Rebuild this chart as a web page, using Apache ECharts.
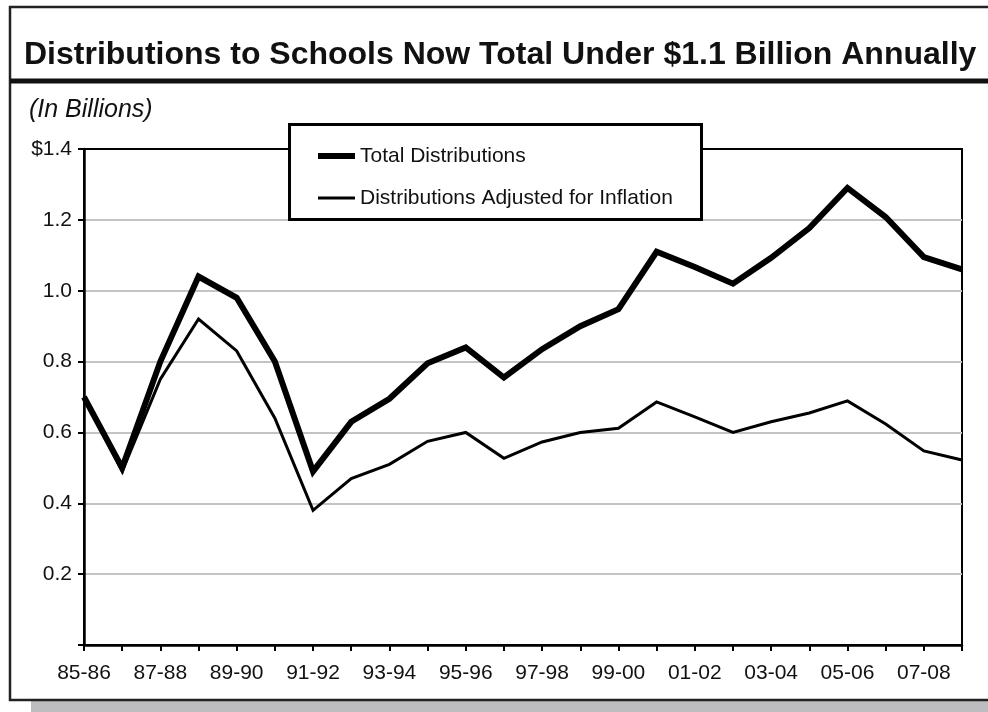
<!DOCTYPE html>
<html>
<head>
<meta charset="utf-8">
<script src="https://cdn.jsdelivr.net/npm/echarts@6/dist/echarts.min.js"></script>
<style>html,body{margin:0;padding:0;background:#fff;}#chart{width:988px;height:712px;}</style>
</head>
<body>
<div id="chart"></div>
<script>
var categories = ['85-86','86-87','87-88','88-89','89-90','90-91','91-92','92-93','93-94','94-95','95-96','96-97','97-98','98-99','99-00','00-01','01-02','02-03','03-04','04-05','05-06','06-07','07-08','08-09'];
var totalDistributions = [0.70,0.50,0.80,1.04,0.98,0.80,0.49,0.63,0.695,0.795,0.84,0.755,0.835,0.90,0.948,1.11,1.067,1.02,1.093,1.177,1.29,1.208,1.095,1.06];
var adjustedDistributions = [0.70,0.49,0.75,0.92,0.83,0.64,0.38,0.47,0.51,0.575,0.60,0.527,0.573,0.60,0.612,0.686,0.644,0.60,0.63,0.655,0.689,0.624,0.548,0.522];
var seriesNames = ['Total Distributions','Distributions Adjusted for Inflation'];
var titleText = 'Distributions to Schools Now Total Under $1.1 Billion Annually';
var unitText = '(In Billions)';

var FONT = '"Liberation Sans", Arial, Helvetica, sans-serif';
var chart = echarts.init(document.getElementById('chart'), null, {renderer: 'canvas'});
chart.setOption({
  backgroundColor: '#fff',
  animation: false,
  textStyle: {fontFamily: FONT, color: '#111'},
  graphic: [
    {type: 'rect', z: -10, shape: {x: 31, y: 700, width: 970, height: 12}, style: {fill: '#bdbdc0'}},
    {type: 'rect', z: -9, shape: {x: 10, y: 7, width: 1000, height: 693}, style: {fill: '#fff', stroke: '#222', lineWidth: 2.5}},
    {type: 'rect', z: -8, shape: {x: 10, y: 78.5, width: 1000, height: 5}, style: {fill: '#111'}},
    {type: 'text', z: 5, x: 24, y: 55, style: {text: titleText, font: 'bold 32px ' + FONT, fill: '#111', textVerticalAlign: 'middle'}},
    {type: 'text', z: 5, x: 29, y: 110, style: {text: unitText, font: 'italic 25px ' + FONT, fill: '#111', textVerticalAlign: 'middle'}},
    {type: 'rect', z: 3, shape: {x: 289.5, y: 124.5, width: 412, height: 95}, style: {fill: '#fff', stroke: '#000', lineWidth: 3}}
  ],
  legend: {
    z: 4,
    orient: 'vertical',
    left: 313,
    top: 140,
    itemWidth: 37,
    itemHeight: 6,
    itemGap: 20,
    symbolKeepAspect: true,
    itemStyle: {borderWidth: 0},
    textStyle: {fontSize: 21, fontFamily: FONT, color: '#111', lineHeight: 22, padding: [0,0,0,0]},
    data: [
      {name: seriesNames[0], icon: 'path://M0,0H37V6H0Z'},
      {name: seriesNames[1], icon: 'path://M0,0H37V3H0Z'}
    ]
  },
  grid: {left: 84, right: 26, top: 149, bottom: 67, show: true, borderColor: '#000', borderWidth: 2, backgroundColor: 'transparent'},
  xAxis: {
    type: 'category',
    data: categories,
    boundaryGap: false,
    axisLine: {lineStyle: {color: '#000', width: 2.5}},
    axisTick: {show: true, interval: 0, length: 6, lineStyle: {color: '#000', width: 2}},
    axisLabel: {interval: 1, fontSize: 21, color: '#111', margin: 18, fontFamily: FONT},
    splitLine: {show: false}
  },
  yAxis: {
    type: 'value',
    min: 0, max: 1.4, interval: 0.2,
    axisLine: {show: true, lineStyle: {color: '#000', width: 2.5}},
    axisTick: {show: true, length: 6, lineStyle: {color: '#000', width: 2}},
    axisLabel: {fontSize: 21, color: '#111', margin: 12, fontFamily: FONT,
      formatter: function (v) { if (v === 0) return ''; return (v > 1.39 ? '$' : '') + v.toFixed(1); }},
    splitLine: {show: true, lineStyle: {color: ['#000','#c4c4c4','#c4c4c4','#c4c4c4','#c4c4c4','#c4c4c4','#c4c4c4','#000'], width: 2}}
  },
  series: [
    {name: seriesNames[0], type: 'line', data: totalDistributions, symbol: 'none', clip: false, z: 2,
     color: '#000', lineStyle: {color: '#000', width: 6, join: 'miter', miterLimit: 3}},
    {name: seriesNames[1], type: 'line', data: adjustedDistributions, symbol: 'none', clip: false, z: 2,
     color: '#000', lineStyle: {color: '#000', width: 3, join: 'miter', miterLimit: 3}}
  ]
});
</script>
</body>
</html>
